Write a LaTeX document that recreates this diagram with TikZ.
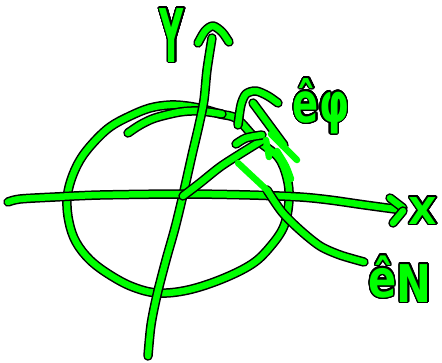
\documentclass[tikz,border=0pt]{standalone}
\usepackage{fontspec}
\setmainfont{DejaVu Sans}
\usepackage{contour}
\contourlength{1.4pt}
\contournumber{32}
\definecolor{pen}{HTML}{00FF00}
\newcommand{\pentxt}[1]{{\color{pen}\contour{black}{#1}}}
\tikzset{
  ink/.style={draw=black, line width=1.5pt, double=pen, double distance=6.5pt, line cap=round, line join=round},
  bright/.style={draw=pen, line width=6.5pt, line cap=round, line join=round},
  lab/.style={inner sep=0pt, anchor=base, font=\bfseries}
}
\begin{document}
\begin{tikzpicture}[x=1pt,y=-1pt]
\useasboundingbox (0,0) rectangle (442,362);
% circle
\draw[ink] plot[smooth cycle, tension=0.6] coordinates {(257,140) (237,119) (220,114) (203,109) (187,106) (170,105) (150,108) (130,116) (110,127) (93,143) (80,160) (71,180) (67,200) (69,222) (76,242) (90,260) (110,275) (133,287) (158,293) (188,290) (222,279) (252,264) (270,247) (284,226) (289,200) (287,178) (278,157)};
% inner arc
\draw[ink] plot[smooth] coordinates {(128,133) (140,125) (155,118) (180,112) (200,111) (222,114)};
% Y axis
\draw[ink] plot[smooth] coordinates {(148,356) (151,325) (157,295) (166,260) (175,228) (183,195) (192,155) (199,125) (204,100) (207,70) (212,38)};
\draw[ink] plot[smooth] coordinates {(198,43) (205,31) (213,26) (222,32) (229,42)};
% X axis
\draw[ink] plot[smooth] coordinates {(8,202) (20,199) (55,197) (100,195) (183,194) (250,195) (300,197) (330,200) (365,205) (402,210)};
\draw[ink] (390,198) -- (403,208);
\draw[ink] (393,223) -- (403,211);
% radial line
\draw[ink] plot[smooth] coordinates {(183,196) (200,183) (220,167) (240,154) (261,141)};
% small hook
\draw[ink] plot[smooth] coordinates {(236,144) (246,138) (262,135)};
% arch
\draw[ink] plot[smooth] coordinates {(238,125) (241,105) (246,94) (256,91) (268,96) (278,103)};
% shaft
\draw[ink] (253,103) -- (284,145);
% e_N line
\draw[ink] plot[smooth] coordinates {(267,190) (282,212) (300,230) (320,246) (340,255) (364,262)};
% bright strokes
\draw[bright] (238,163) -- (268,191);
\draw[bright] (266,140) -- (269,157);
\draw[bright] (271,134) -- (297,160);
\draw[bright] plot[smooth] coordinates {(277,151) (286,166) (291,179)};
% labels
\node[lab] (ylab) at (172,62) {\fontsize{74}{74}\selectfont\pentxt{\scalebox{0.45}[1]{Y}}};
\node[lab] (xlab) at (423,224) {\fontsize{37}{37}\selectfont\pentxt{X}};
\node[lab] (ephi) at (321,122) {\fontsize{55}{55}\selectfont\pentxt{\scalebox{0.7}[1]{ê}}\pentxt{\scalebox{0.7}[1]{φ}}};
\node[lab] (eN) at (400,297) {\fontsize{52}{52}\selectfont\pentxt{\scalebox{0.8}[1]{ê}}\raisebox{-5pt}{\pentxt{\scalebox{0.8}[1]{N}}}};
\end{tikzpicture}
\end{document}
